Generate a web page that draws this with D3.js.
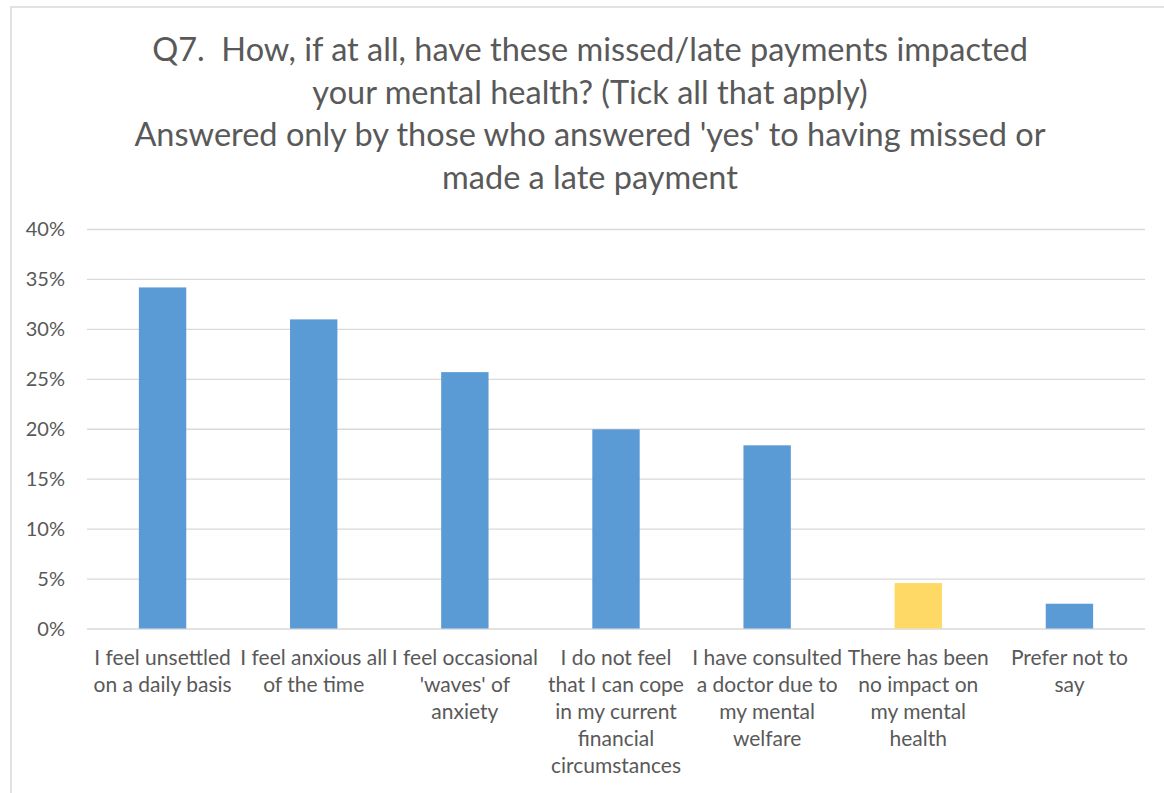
<!DOCTYPE html>
<html>
<head>
<meta charset="utf-8">
<script src="https://cdn.jsdelivr.net/npm/d3@7"></script>
<style>
  html, body { margin: 0; padding: 0; background: #ffffff; }
  svg { display: block; }
  text { font-family: Lato, "Open Sans", sans-serif; fill: #595959; }
  .title text { white-space: pre; }
</style>
</head>
<body>
<div id="chart"></div>
<script>
// Survey question and answer options
const titleLines = [
  "Q7.  How, if at all, have these missed/late payments impacted",
  "your mental health? (Tick all that apply)",
  "Answered only by those who answered 'yes' to having missed or",
  "made a late payment"
];

const categories = [
  ["I feel unsettled", "on a daily basis"],
  ["I feel anxious all", "of the time"],
  ["I feel occasional", "'waves' of", "anxiety"],
  ["I do not feel", "that I can cope", "in my current", "financial", "circumstances"],
  ["I have consulted", "a doctor due to", "my mental", "welfare"],
  ["There has been", "no impact on", "my mental", "health"],
  ["Prefer not to", "say"]
];

// Share of respondents choosing each option
const values = [0.3415, 0.3095, 0.2567, 0.1994, 0.1834, 0.0455, 0.0248];

// The "no impact" answer is highlighted
const highlighted = [false, false, false, false, false, true, false];

const yTicks = [0, 0.05, 0.10, 0.15, 0.20, 0.25, 0.30, 0.35, 0.40];

const W = 1164, H = 793;
const plot = { left: 87, right: 1145, top: 229, bottom: 628.5 };
const colors = { bar: "#5b9bd5", highlight: "#ffd966", grid: "#d9d9d9", border: "#d9d9d9" };

const svg = d3.select("#chart").append("svg")
  .attr("width", W).attr("height", H);

// Chart frame (runs off the right and bottom edges)
svg.append("rect")
  .attr("x", 11).attr("y", 7)
  .attr("width", W + 20).attr("height", H + 20)
  .attr("fill", "#ffffff")
  .attr("stroke", colors.border)
  .attr("stroke-width", 1.5);

// Title
svg.append("g")
  .attr("class", "title")
  .selectAll("text")
  .data(titleLines)
  .join("text")
  .attr("x", 590)
  .attr("y", (d, i) => 61 + i * 42.5)
  .attr("text-anchor", "middle")
  .attr("xml:space", "preserve")
  .style("font-size", "32.5px")
  .text(d => d);

const x = d3.scaleBand()
  .domain(d3.range(categories.length))
  .range([plot.left, plot.right])
  .paddingInner(2.19 / 3.19)
  .paddingOuter(2.19 / 3.19 / 2);

const y = d3.scaleLinear()
  .domain([0, 0.4])
  .range([plot.bottom, plot.top]);

// Horizontal gridlines with percentage labels
const yAxis = d3.axisLeft(y)
  .tickValues(yTicks)
  .tickFormat(d3.format(".0%"))
  .tickSize(-(plot.right - plot.left))
  .tickPadding(22);

const gy = svg.append("g")
  .attr("transform", `translate(${plot.left},0)`)
  .call(yAxis);
gy.select(".domain").remove();
gy.selectAll(".tick line")
  .attr("stroke", colors.grid)
  .attr("stroke-width", 1.3);
gy.selectAll(".tick text")
  .attr("fill", "#595959")
  .style("font-size", "20px")
  .attr("dy", "0.34em");

// Bars
svg.append("g")
  .selectAll("rect")
  .data(values)
  .join("rect")
  .attr("x", (d, i) => x(i))
  .attr("width", x.bandwidth())
  .attr("y", d => y(d))
  .attr("height", d => y(0) - y(d))
  .attr("fill", (d, i) => highlighted[i] ? colors.highlight : colors.bar);

// Category labels beneath the baseline
const xAxis = d3.axisBottom(x).tickSize(0).tickFormat("");
const gx = svg.append("g")
  .attr("transform", `translate(0,${plot.bottom})`)
  .call(xAxis);
gx.select(".domain").remove();

gx.selectAll(".tick")
  .append("text")
  .attr("text-anchor", "middle")
  .style("font-size", "21px")
  .selectAll("tspan")
  .data(i => categories[i])
  .join("tspan")
  .attr("x", 0)
  .attr("y", (d, j) => 36.5 + j * 27)
  .text(d => d);
</script>
</body>
</html>
